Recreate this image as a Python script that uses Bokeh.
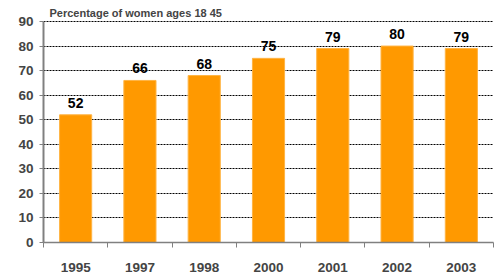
from bokeh.plotting import figure
from bokeh.models import (Range1d, LinearAxis, FixedTicker, Label, ColumnDataSource)
from bokeh.embed import file_html
from bokeh.resources import INLINE
from bokeh.core.properties import value

years = ["1995", "1997", "1998", "2000", "2001", "2002", "2003"]
percent = [52, 66, 68, 75, 79, 80, 79]
y_ticks = [0, 10, 20, 30, 40, 50, 60, 70, 80, 90]
title_text = "Percentage of women ages 18  45"

FONT = "Liberation Sans"
AXIS_GRAY = "#808080"

n = len(years)
centers = [i + 0.5 for i in range(n)]
src = ColumnDataSource(dict(x=centers, y=percent, label=[str(v) for v in percent]))

p = figure(width=498, height=274, output_backend="svg", toolbar_location=None,
           x_range=Range1d(0, n), y_range=Range1d(0, 95.3),
           x_axis_location=None, y_axis_location=None,
           min_border_left=43, min_border_right=5, min_border_top=8, min_border_bottom=0)
p.outline_line_color = None
p.background_fill_color = "white"
p.border_fill_color = "white"

p.vbar(x="x", top="y", width=0.5, source=src, fill_color="#FF9900",
       line_color="#FFB444", line_width=1)

p.text(x="x", y="y", text="label", source=src, text_align="center",
       text_baseline="bottom", y_offset=-7, text_font=value(FONT),
       text_font_style="bold", text_font_size="14px", text_color="black")

# y axis
yaxis = LinearAxis(ticker=FixedTicker(ticks=y_ticks), bounds=(0, 90))
yaxis.axis_line_color = AXIS_GRAY
yaxis.axis_line_width = 2
yaxis.major_tick_line_color = AXIS_GRAY
yaxis.major_tick_out = 4
yaxis.major_tick_in = 0
yaxis.minor_tick_line_color = None
yaxis.major_label_text_font = FONT
yaxis.major_label_text_font_style = "bold"
yaxis.major_label_text_font_size = "13.5px"
yaxis.major_label_standoff = 6
p.add_layout(yaxis, "left")

# x axis: labels at category centres, tick marks at category boundaries
xaxis = LinearAxis(ticker=FixedTicker(ticks=centers, minor_ticks=list(range(n + 1))))
xaxis.major_label_overrides = {c: y for c, y in zip(centers, years)}
xaxis.axis_line_color = AXIS_GRAY
xaxis.axis_line_width = 1.5
xaxis.major_tick_line_color = None
xaxis.major_tick_out = 0
xaxis.major_tick_in = 0
xaxis.minor_tick_line_color = AXIS_GRAY
xaxis.minor_tick_out = 5
xaxis.minor_tick_in = 0
xaxis.major_label_text_font = FONT
xaxis.major_label_text_font_style = "bold"
xaxis.major_label_text_font_size = "13.5px"
xaxis.major_label_standoff = 15
p.add_layout(xaxis, "below")

p.xgrid.grid_line_color = None
p.ygrid.ticker = FixedTicker(ticks=y_ticks)
p.ygrid.grid_line_color = "black"
p.ygrid.grid_line_dash = "2 1"
p.ygrid.grid_line_width = 1

title = Label(x=0, y=90, x_units="data", y_units="data", x_offset=6, y_offset=3,
              text=title_text, text_font=FONT, text_font_style="bold",
              text_font_size="11px", text_baseline="bottom", text_align="left")
p.add_layout(title)

open("out.html", "w").write(file_html(p, INLINE))
